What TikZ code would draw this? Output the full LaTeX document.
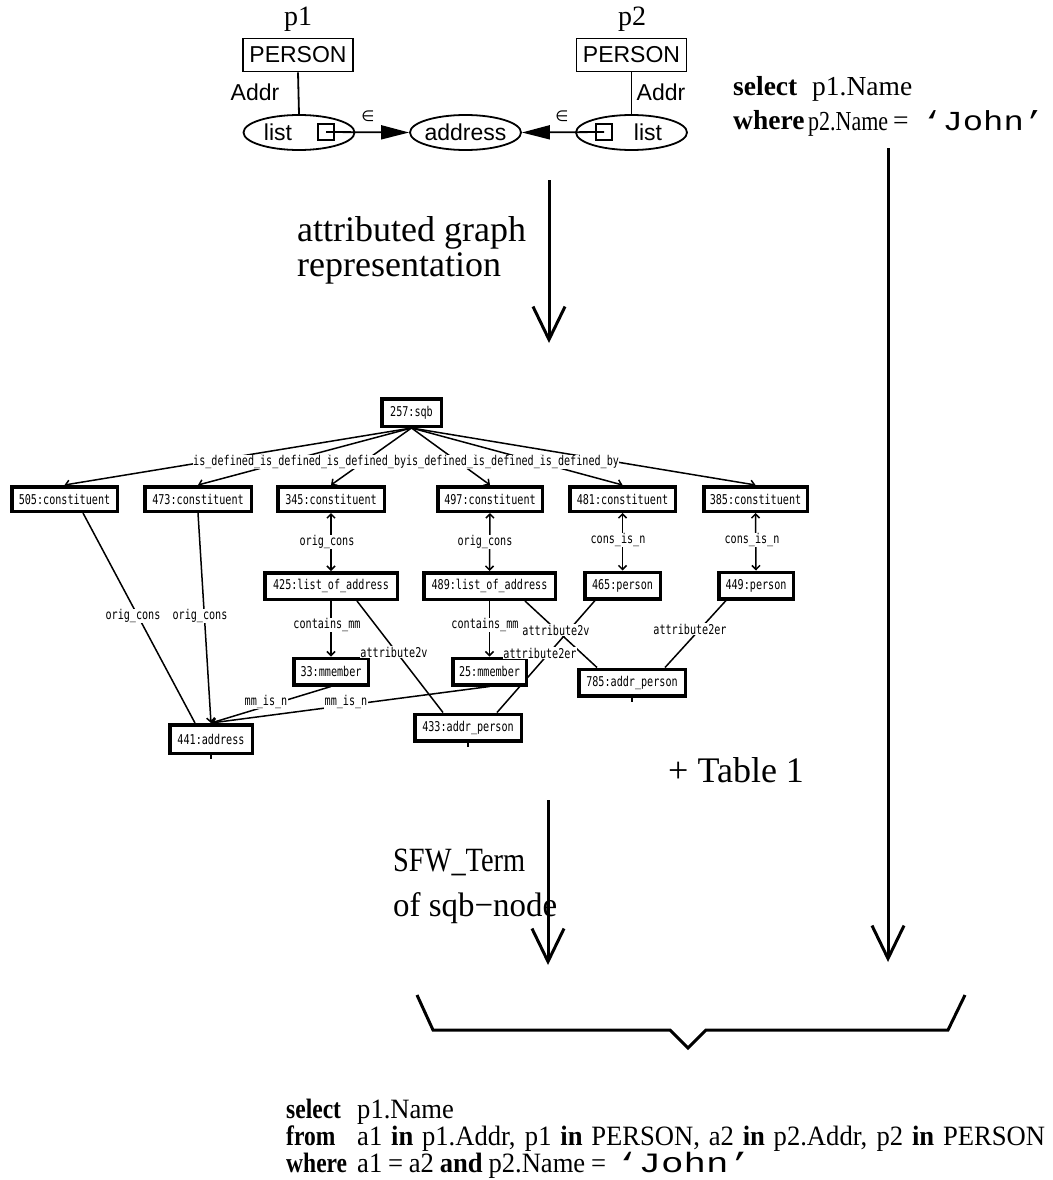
\documentclass[tikz,border=0pt]{standalone}
\usepackage{fontspec}
\setmainfont{Liberation Serif}
\newfontfamily\sansf{Liberation Sans}
\newfontfamily\monof{Liberation Mono}
\newfontfamily\gmono{DejaVu Sans Mono}
\newfontfamily\symf{DejaVu Sans}
\usetikzlibrary{arrows.meta,shapes.geometric}
\pgfdeclarelayer{bg}
\pgfsetlayers{bg,main}
\newcommand{\gt}[1]{\scalebox{0.75}[1]{#1}}
\newcommand{\fitw}[2]{\resizebox{#1}{\height}{#2}}
\newcommand{\cnd}[1]{\scalebox{0.95}[1]{#1}}
\newcommand{\cndk}[1]{\scalebox{0.84}[1]{#1}}
\begin{document}
\begin{tikzpicture}[x=1pt,y=-1pt,
  pbox/.style={draw, line width=1.8pt, minimum width=110pt, minimum height=33pt, inner sep=0pt, font=\sansf\fontsize{23}{27}\selectfont},
  oval/.style={draw, ellipse, line width=1.8pt, minimum width=111pt, minimum height=35pt, inner sep=0pt},
  sqr/.style={draw, line width=1.8pt, minimum size=16pt, inner sep=0pt},
  stxt/.style={inner sep=0pt, font=\sansf\fontsize{23}{27}\selectfont},
  serl/.style={inner sep=0pt, font=\fontsize{28}{32}\selectfont},
  tri/.style={line width=1.8pt, -{Triangle[length=28pt,width=14pt]}},
  bigarr/.style={line width=3pt, -{Straight Barb[length=33pt,width=32pt,line width=3pt]}},
  gbox/.style={draw, line width=3.5pt, fill=white, inner sep=0pt, font=\gmono\fontsize{13.5}{15}\selectfont, minimum height=26.5pt},
  garr/.style={line width=1.5pt, -{Straight Barb[length=4pt,width=8pt]}},
  gdbl/.style={line width=1.5pt, {Straight Barb[length=4pt,width=8pt]}-{Straight Barb[length=4pt,width=8pt]}},
  gline/.style={line width=1.5pt},
  elbl/.style={fill=white, inner sep=0.5pt, font=\gmono\fontsize{13.5}{15}\selectfont},
  big/.style={inner sep=0pt, font=\fontsize{36}{40}\selectfont, anchor=base west},
  sql/.style={inner sep=0pt, font=\fontsize{27.5}{32}\selectfont, anchor=base west},
  bsql/.style={inner sep=0pt, font=\fontsize{28}{32}\selectfont, anchor=base west}
]
\useasboundingbox (0,0) rectangle (1052,1180);

% ---------- top schema ----------
\node[serl, anchor=base] (p1lab) at (298,26) {p1};
\node[pbox] (P1) at (298,55) {PERSON};
\node[oval] (L1) at (299,132.5) {};
\node[stxt] (L1t) at (278,132.5) {list};
\node[sqr] (S1) at (326,132) {};
\node[stxt] (ad1) at (255,92) {Addr};
\draw[line width=1.8pt] (P1.south) -- (L1.north);

\node[oval] (A) at (465.5,132.5) {};
\node[stxt] (At) at (465.5,132.5) {address};

\node[serl, anchor=base] (p2lab) at (632,26) {p2};
\node[pbox] (P2) at (631.5,55) {PERSON};
\node[oval] (L2) at (631.5,132.5) {};
\node[stxt] (L2t) at (648,132.5) {list};
\node[sqr] (S2) at (604,132) {};
\node[stxt] (ad2) at (661,92) {Addr};
\draw[line width=1.8pt] (P2.south) -- (L2.north);

\draw[tri] (S1.center) -- (A.west);
\draw[tri] (S2.center) -- (A.east);
\node[inner sep=0pt, font=\symf\fontsize{15}{17}\selectfont] (e1) at (368,116) {∈};
\node[inner sep=0pt, font=\symf\fontsize{15}{17}\selectfont] (e2) at (562,116) {∈};

% ---------- top right query ----------
\node[sql] (q1k) at (733,96) {\textbf{select}};
\node[sql] (q1v) at (812,96) {p1.Name};
\node[sql] (q2k) at (733,130) {\textbf{where}};
\node[sql] (q2v) at (808,130) {\fitw{80pt}{p2.Name}};
\node[sql] (q2e) at (893,130) {=};
\node[sql, font=\monof\fontsize{27.5}{32}\selectfont] (q2j) at (922,130) {\fitw{122pt}{‘John’}};

% ---------- arrows ----------
\coordinate (m1top) at (549,180);
\coordinate (m1tip) at (549,343);
\draw[bigarr] (m1top) -- (m1tip);
\node[big] (t1) at (297,241) {attributed graph};
\node[big] (t2) at (297,276) {representation};

\coordinate (m2top) at (548,800);
\coordinate (m2tip) at (548,965);
\draw[bigarr] (m2top) -- (m2tip);
\node[big, font=\fontsize{34}{38}\selectfont] (t3) at (393,871) {\fitw{132pt}{SFW\_Term}};
\node[big, font=\fontsize{34}{38}\selectfont] (t4) at (393,916) {\fitw{164pt}{of sqb−node}};
\node[big] (t5) at (668,782) {+ Table 1};

\coordinate (rtop) at (888,148);
\coordinate (rtip) at (888,962);
\draw[bigarr] (rtop) -- (rtip);

% brace
\coordinate (b1) at (417,995);
\coordinate (b2) at (433,1030);
\coordinate (b3) at (670,1030);
\coordinate (b4) at (688,1048);
\coordinate (b5) at (706,1030);
\coordinate (b6) at (948,1030);
\coordinate (b7) at (965,995);
\draw[line width=3pt, line join=miter] (b1) -- (b2) -- (b3) -- (b4) -- (b5) -- (b6) -- (b7);

% bottom query
\node[bsql] (r1k) at (286,1118) {\cndk{\textbf{select}}};
\node[bsql] (r1v) at (357,1118) {\cnd{p1.Name}};
\node[bsql] (r2k) at (286,1145) {\cndk{\textbf{from}}};
\node[bsql] (r2v) at (357,1145) {\cnd{\makebox[724pt][s]{a1 \textbf{in} p1.Addr, p1 \textbf{in} PERSON, a2 \textbf{in} p2.Addr, p2 \textbf{in} PERSON}}};
\node[bsql] (r3k) at (286,1172) {\cndk{\textbf{where}}};
\node[bsql] (r3v) at (357,1172) {\cnd{\makebox[262pt][s]{a1 = a2 \textbf{and} p2.Name =}}};
\node[bsql, font=\monof\fontsize{28}{32}\selectfont] (r3j) at (616,1172) {\fitw{135pt}{‘John’}};

% ---------- graph ----------
\node[gbox, minimum width=59.5pt, minimum height=27.5pt] (sqb) at (411.5,412.5) {\gt{257:sqb}};
\node[gbox, minimum width=105.5pt, minimum height=24.5pt] (c505) at (64.5,499) {\gt{505:constituent}};
\node[gbox, minimum width=106.5pt, minimum height=24.5pt] (c473) at (198,499) {\gt{473:constituent}};
\node[gbox, minimum width=106.5pt, minimum height=24.5pt] (c345) at (331,499) {\gt{345:constituent}};
\node[gbox, minimum width=104.5pt, minimum height=24.5pt] (c497) at (490,499) {\gt{497:constituent}};
\node[gbox, minimum width=105.5pt, minimum height=24.5pt] (c481) at (622.5,499) {\gt{481:constituent}};
\node[gbox, minimum width=103.5pt, minimum height=24.5pt] (c385) at (755.5,499) {\gt{385:constituent}};
\node[gbox, minimum width=132.5pt] (l425) at (331,586) {\gt{425:list\_of\_address}};
\node[gbox, minimum width=131.5pt] (l489) at (489.5,586) {\gt{489:list\_of\_address}};
\node[gbox, minimum width=75.5pt] (p465) at (622.5,585.5) {\gt{465:person}};
\node[gbox, minimum width=74.5pt] (p449) at (756,585.5) {\gt{449:person}};
\node[gbox, minimum width=74.5pt] (m33) at (331,671.5) {\gt{33:mmember}};
\node[gbox, minimum width=73.5pt] (m25) at (489.5,671.5) {\gt{25:mmember}};
\node[gbox, minimum width=82.5pt, minimum height=28.5pt] (a441) at (211,739) {\gt{441:address}};
\node[gbox, minimum width=106.5pt] (ap433) at (468,727.5) {\gt{433:addr\_person}};
\node[gbox, minimum width=106.5pt] (ap785) at (632,682.5) {\gt{785:addr\_person}};

\begin{pgfonlayer}{bg}
\foreach \t in {c505,c473,c345,c497,c481,c385}
  \draw[garr] (sqb.south) -- (\t.north);
\draw[gdbl] (c345.south) -- (l425.north);
\draw[gdbl] (c497.south) -- (l489.north);
\draw[gdbl] (c481.south) -- (p465.north);
\draw[gdbl] (c385.south) -- (p449.north);
\draw[garr] (l425.south) -- (m33.north);
\draw[garr] (l489.south) -- (m25.north);
\draw[garr] (m33.south) -- (a441.north);
\draw[garr] (m25.south) -- (a441.north);
\draw[garr] (c473.south) -- (a441.north);
\draw[gline] ([xshift=18.5pt]c505.south) -- ([xshift=-16pt]a441.north);
\draw[gline] ([xshift=26pt]l425.south) -- ([xshift=-25pt]ap433.north);
\draw[gline] ([xshift=35.5pt]l489.south) -- ([xshift=-35pt]ap785.north);
\draw[gline] ([xshift=-27.5pt]p465.south) -- ([xshift=29pt]ap433.north);
\draw[gline] ([xshift=-30pt]p449.south) -- ([xshift=33pt]ap785.north);
\draw[gline] (a441.south) -- ++(0,4);
\draw[gline] (ap433.south) -- ++(0,4);
\draw[gline] (ap785.south) -- ++(0,4);
\end{pgfonlayer}

% edge labels
\foreach \k/\n in {0/d1,11/d2,22/d3,35/d4,46/d5,57/d6}
  \node[elbl, inner sep=0pt, anchor=west] (\n) at ({193+\k*6.08},462) {\gt{is\_defined\_by}};
\node[elbl] (o1) at (327,542) {\gt{orig\_cons}};
\node[elbl] (o2) at (485,542) {\gt{orig\_cons}};
\node[elbl] (o3) at (133,616) {\gt{orig\_cons}};
\node[elbl] (o4) at (200,616) {\gt{orig\_cons}};
\node[elbl] (ci1) at (618,540) {\gt{cons\_is\_n}};
\node[elbl] (ci2) at (752,540) {\gt{cons\_is\_n}};
\node[elbl] (cm1) at (327,625) {\gt{contains\_mm}};
\node[elbl] (cm2) at (485,625) {\gt{contains\_mm}};
\node[elbl] (av1) at (394,652) {\gt{attribute2v}};
\node[elbl] (av2) at (556,630) {\gt{attribute2v}};
\node[elbl] (ae1) at (540,653) {\gt{attribute2er}};
\node[elbl] (ae2) at (690,629) {\gt{attribute2er}};
\node[elbl] (mm1) at (266,702) {\gt{mm\_is\_n}};
\node[elbl] (mm2) at (346,702) {\gt{mm\_is\_n}};
\end{tikzpicture}
\end{document}
